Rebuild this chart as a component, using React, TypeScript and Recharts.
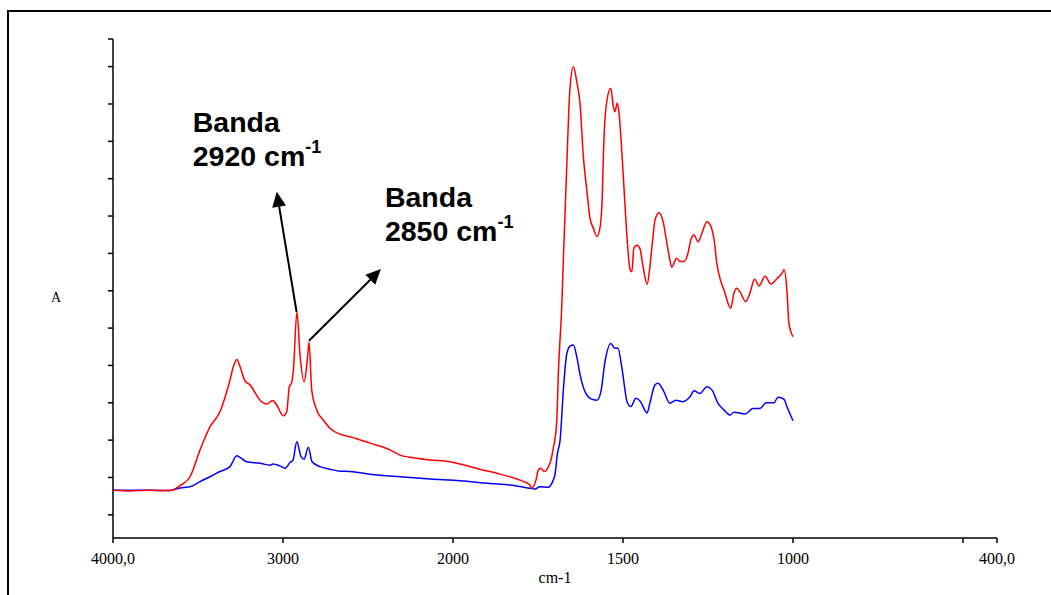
import { LineChart, Line, XAxis, YAxis, ReferenceLine } from 'recharts';

// wavenumbers (cm-1) and absorbance
const redWavenumbers = [
  4000, 3900, 3782, 3665, 3606, 3547, 3488, 3429, 3371, 3312, 3292, 3272, 3253, 3224, 3194, 3135, 3096, 3061, 3037, 2998,
  2978, 2963, 2949, 2939, 2918, 2900, 2876, 2857, 2847, 2831, 2802, 2763, 2724, 2665, 2606, 2488, 2371, 2312, 2253, 2135,
  2018, 1979, 1921, 1862, 1803, 1774, 1769, 1756, 1749, 1742, 1732, 1715, 1705, 1695, 1690, 1680, 1675, 1666, 1656, 1646,
  1636, 1626, 1617, 1607, 1597, 1587, 1577, 1568, 1562, 1556, 1548, 1536, 1529, 1524, 1517, 1512, 1506, 1497, 1488, 1479,
  1474, 1468, 1459, 1450, 1441, 1429, 1421, 1412, 1406, 1394, 1382, 1371, 1362, 1357, 1342, 1332, 1321, 1309, 1300, 1291,
  1279, 1268, 1253, 1241, 1232, 1224, 1212, 1203, 1183, 1174, 1165, 1156, 1139, 1127, 1113, 1100, 1082, 1065, 1047, 1032,
  1026, 1018, 1012, 1000,
];
const redAbsorbance = [
  0.128, 0.126, 0.128, 0.127, 0.14, 0.164, 0.236, 0.298, 0.338, 0.423, 0.459, 0.478, 0.459, 0.421, 0.41, 0.369, 0.359, 0.368, 0.356, 0.327,
  0.338, 0.405, 0.416, 0.45, 0.605, 0.49, 0.418, 0.477, 0.525, 0.396, 0.343, 0.316, 0.294, 0.278, 0.271, 0.254, 0.236, 0.222, 0.216, 0.209,
  0.204, 0.198, 0.184, 0.171, 0.155, 0.142, 0.133, 0.155, 0.182, 0.187, 0.178, 0.2, 0.24, 0.311, 0.445, 0.624, 0.758, 0.981, 1.204, 1.262,
  1.222, 1.159, 1.025, 0.936, 0.856, 0.829, 0.807, 0.829, 0.892, 1.07, 1.168, 1.204, 1.159, 1.141, 1.164, 1.141, 1.07, 0.936, 0.802, 0.718,
  0.713, 0.776, 0.784, 0.774, 0.726, 0.679, 0.726, 0.805, 0.851, 0.871, 0.847, 0.789, 0.744, 0.725, 0.749, 0.74, 0.74, 0.762, 0.8, 0.811,
  0.793, 0.816, 0.847, 0.833, 0.798, 0.735, 0.686, 0.664, 0.615, 0.655, 0.669, 0.659, 0.633, 0.655, 0.693, 0.675, 0.701, 0.68, 0.695, 0.709,
  0.718, 0.664, 0.575, 0.539,
];

const blueWavenumbers = [
  4000, 3782, 3665, 3606, 3547, 3488, 3429, 3371, 3312, 3272, 3253, 3214, 3135, 3076, 3059, 3018, 2988, 2959, 2941, 2919,
  2894, 2876, 2851, 2829, 2782, 2724, 2665, 2606, 2488, 2312, 2135, 1979, 1891, 1832, 1774, 1759, 1744, 1721, 1706, 1700,
  1693, 1685, 1675, 1666, 1656, 1646, 1635, 1626, 1612, 1597, 1577, 1565, 1553, 1536, 1524, 1515, 1503, 1488, 1477, 1462,
  1450, 1429, 1421, 1406, 1397, 1382, 1362, 1344, 1324, 1303, 1291, 1274, 1253, 1238, 1221, 1203, 1185, 1174, 1141, 1118,
  1097, 1079, 1056, 1044, 1026, 1018, 1000,
];
const blueAbsorbance = [
  0.128, 0.128, 0.127, 0.134, 0.137, 0.151, 0.164, 0.178, 0.191, 0.22, 0.216, 0.204, 0.2, 0.195, 0.198, 0.193, 0.187, 0.202, 0.209, 0.258,
  0.218, 0.211, 0.243, 0.204, 0.191, 0.184, 0.179, 0.178, 0.171, 0.164, 0.158, 0.153, 0.146, 0.142, 0.133, 0.131, 0.137, 0.136, 0.153, 0.17,
  0.225, 0.262, 0.401, 0.49, 0.514, 0.517, 0.481, 0.436, 0.392, 0.374, 0.369, 0.392, 0.472, 0.521, 0.508, 0.508, 0.454, 0.365, 0.352, 0.374,
  0.367, 0.335, 0.361, 0.41, 0.414, 0.396, 0.361, 0.369, 0.365, 0.378, 0.394, 0.387, 0.405, 0.396, 0.361, 0.343, 0.329, 0.337, 0.332, 0.347,
  0.347, 0.362, 0.362, 0.377, 0.371, 0.352, 0.314,
];

const xTickValues = [4000, 3000, 2000, 1500, 1000, 500, 400];
const xTickLabels = ['4000,0', '3000', '2000', '1500', '1000', '', '400,0'];
const yTicks = [0.062, 0.162, 0.262, 0.362, 0.462, 0.562, 0.662, 0.762, 0.862, 0.962, 1.062, 1.162, 1.262, 1.336];

// the x axis changes scale at 2000 cm-1 (2000-400 is drawn twice as wide)
function toPos(w: number) {
  return w >= 2000 ? (4000 - w) / 1000 : 2 + (2000 - w) / 500;
}

const redData = redWavenumbers.map((w, i) => ({ pos: toPos(w), a: redAbsorbance[i] }));
const blueData = blueWavenumbers.map((w, i) => ({ pos: toPos(w), a: blueAbsorbance[i] }));

const annotations = [
  { band: '2920', from: { w: 2920, a: 0.605 }, to: { w: 3037, a: 0.927 }, dx: -84, dy: -60 },
  { band: '2850', from: { w: 2847, a: 0.528 }, to: { w: 2424, a: 0.72 }, dx: 4, dy: -62 },
];

const serif = '"Liberation Serif", "Times New Roman", serif';
const sans = '"Liberation Sans", Arial, sans-serif';

function xLabel(v: number) {
  const i = xTickValues.findIndex((t) => Math.abs(toPos(t) - v) < 1e-6);
  return i >= 0 ? xTickLabels[i] : '';
}

function XTick(props: any) {
  const { x, y, payload } = props;
  return (
    <text
      x={x}
      y={y + 11}
      textAnchor="middle"
      fontSize={16}
      fill="#000"
      style={{ fontFamily: serif }}
    >
      {xLabel(payload.value)}
    </text>
  );
}

function Arrow(props: any, band: string, dx: number, dy: number) {
  const { x1, y1, x2, y2 } = props;
  const ang = Math.atan2(y2 - y1, x2 - x1);
  const len = 15;
  const hw = 7;
  const bx = x2 - len * Math.cos(ang);
  const by = y2 - len * Math.sin(ang);
  const px = -Math.sin(ang) * hw;
  const py = Math.cos(ang) * hw;
  const tx = x2 + dx;
  const ty = y2 + dy;
  return (
    <g>
      <line x1={x1} y1={y1} x2={bx} y2={by} stroke="#000" strokeWidth={2} />
      <polygon points={`${x2},${y2} ${bx + px},${by + py} ${bx - px},${by - py}`} fill="#000" />
      <text x={tx} y={ty} fontFamily={sans} fontWeight="bold" fontSize={28.5} fill="#000">
        Banda
      </text>
      <text x={tx} y={ty + 34} fontFamily={sans} fontWeight="bold" fontSize={28.5} fill="#000">
        {band} cm
        <tspan fontSize={18} dy={-13}>-1</tspan>
      </text>
    </g>
  );
}

export default function App() {
  return (
    <div style={{ position: 'fixed', left: 0, top: 0, width: 1051, height: 595, overflow: 'hidden', background: '#fff' }}>
      <div
        style={{
          position: 'absolute',
          left: 7,
          top: 10,
          width: 1070,
          height: 620,
          border: '2px solid #000',
          boxSizing: 'border-box',
        }}
      />
      <div style={{ position: 'absolute', left: 0, top: 0 }}>
        <LineChart width={1051} height={595} margin={{ top: 39, right: 54, left: 53, bottom: 17 }}>
          <XAxis
            type="number"
            dataKey="pos"
            domain={[0, toPos(400)]}
            ticks={xTickValues.map(toPos)}
            interval={0}
            height={40}
            tickSize={5}
            tickMargin={10}
            axisLine={{ stroke: '#000', strokeWidth: 1.5 }}
            tickLine={{ stroke: '#000', strokeWidth: 1.5 }}
            tick={<XTick />}
            allowDataOverflow
            label={{
              content: ({ viewBox }: any) => (
                <text
                  x={viewBox.x + viewBox.width / 2}
                  y={viewBox.y + 45}
                  textAnchor="middle"
                  fontSize={16}
                  fill="#000"
                  style={{ fontFamily: serif }}
                >
                  cm-1
                </text>
              ),
            }}
          />
          <YAxis
            type="number"
            domain={[0, 1.336]}
            ticks={yTicks}
            interval={0}
            width={60}
            tickSize={5}
            tick={() => <g />}
            axisLine={{ stroke: '#000', strokeWidth: 1.5 }}
            tickLine={{ stroke: '#000', strokeWidth: 1.5 }}
            allowDataOverflow
            label={{
              content: () => (
                <text x={56} y={302} textAnchor="middle" fontSize={14} fill="#000" style={{ fontFamily: serif }}>
                  A
                </text>
              ),
            }}
          />
          <Line
            data={blueData}
            dataKey="a"
            type="monotone"
            stroke="#0000ff"
            strokeWidth={1.5}
            dot={false}
            isAnimationActive={false}
          />
          <Line
            data={redData}
            dataKey="a"
            type="monotone"
            stroke="#ff0000"
            strokeWidth={1.5}
            dot={false}
            isAnimationActive={false}
          />
          {annotations.map((n) => (
            <ReferenceLine
              key={n.band}
              segment={[
                { x: toPos(n.from.w), y: n.from.a },
                { x: toPos(n.to.w), y: n.to.a },
              ]}
              shape={(p: any) => Arrow(p, n.band, n.dx, n.dy)}
            />
          ))}
        </LineChart>
      </div>
    </div>
  );
}
